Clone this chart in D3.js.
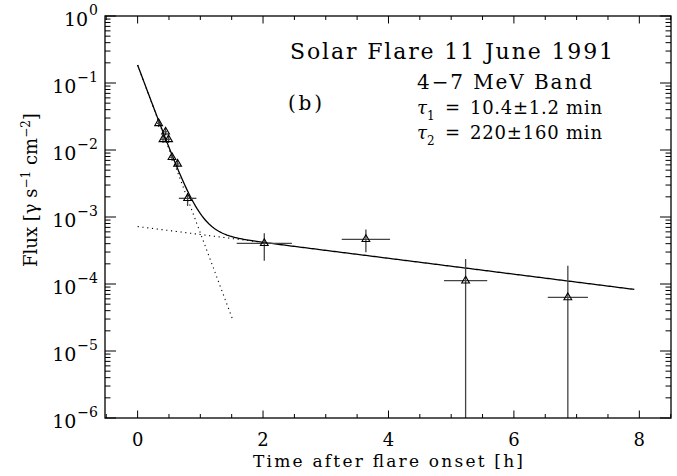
<!DOCTYPE html>
<html>
<head>
<meta charset="utf-8">
<script src="https://cdn.jsdelivr.net/npm/d3@7"></script>
<style>
  html, body { margin: 0; padding: 0; background: #fff; }
  svg text { font-family: "DejaVu Serif", "Liberation Serif", serif; }
</style>
</head>
<body>
<svg id="chart" width="677" height="476"></svg>
<script>
// Measured 4-7 MeV flux points (time in hours after onset)
const times    = [0.335, 0.405, 0.446, 0.494, 0.548, 0.638, 0.797, 2.02, 3.64, 5.23, 6.86];
const flux     = [2.5e-2, 1.44e-2, 1.87e-2, 1.44e-2, 7.8e-3, 6.2e-3, 1.9e-3, 4.05e-4, 4.65e-4, 1.12e-4, 6.3e-5];
const timeErr  = [0.03, 0.03, 0.03, 0.03, 0.03, 0.03, 0.14, 0.44, 0.385, 0.345, 0.32];
const fluxLow  = [2.2e-2, 1.27e-2, 1.65e-2, 1.27e-2, 6.9e-3, 5.5e-3, 1.46e-3, 2.23e-4, 2.97e-4, 0, 0];
const fluxHigh = [2.85e-2, 1.63e-2, 2.12e-2, 1.63e-2, 8.8e-3, 7.0e-3, 2.28e-3, 5.7e-4, 6.5e-4, 2.36e-4, 1.88e-4];

// Two-component exponential fit: A*exp(-t/tau1) + B*exp(-t/tau2)
const tau1Min = 10.4, tau2Min = 220;
const ampFast = 0.185, ampSlow = 7.2e-4;
const fitEnd = 7.92, fastEnd = 1.51, slowEnd = 1.95;

// Axis ticks and labels
const xTicks = [0, 2, 4, 6, 8];
const yExponents = [0, -1, -2, -3, -4, -5, -6];

const svg = d3.select("#chart");
const L = 105, R = 671, T = 16, B = 418;

const x = d3.scaleLinear().domain([-0.52, 8.505]).range([L, R]);
const y = d3.scaleLog().domain([1e-6, 1]).range([B, T]);

const tau1 = tau1Min / 60, tau2 = tau2Min / 60;
const fast = t => ampFast * Math.exp(-t / tau1);
const slow = t => ampSlow * Math.exp(-t / tau2);
const yv = v => v > 0 ? y(v) : B;

const plot = svg.append("g");
plot.append("clipPath").attr("id", "clip")
  .append("rect").attr("x", L).attr("y", T).attr("width", R - L).attr("height", B - T);

// Axes: bottom/top linear, left/right log
const minorX = d3.range(-0.5, 8.51, 0.5).filter(v => Math.abs(v - Math.round(v / 2) * 2) > 1e-6);
const frame = svg.append("g").attr("stroke", "#000").attr("fill", "none");

function xTickMarks(vals, len) {
  vals.forEach(v => {
    const px = x(v);
    frame.append("line").attr("x1", px).attr("x2", px).attr("y1", B).attr("y2", B - len).attr("stroke-width", 1);
    frame.append("line").attr("x1", px).attr("x2", px).attr("y1", T).attr("y2", T + len).attr("stroke-width", 1);
  });
}
xTickMarks(xTicks, 7.5);
xTickMarks(minorX, 4);

const yMinor = [];
for (let e = -6; e < 0; e++) for (let m = 2; m <= 9; m++) yMinor.push(m * Math.pow(10, e));
function yTickMarks(vals, len) {
  vals.forEach(v => {
    const py = y(v);
    frame.append("line").attr("x1", L).attr("x2", L + len).attr("y1", py).attr("y2", py).attr("stroke-width", 1);
    frame.append("line").attr("x1", R).attr("x2", R - len).attr("y1", py).attr("y2", py).attr("stroke-width", 1);
  });
}
yTickMarks(yExponents.map(e => Math.pow(10, e)), 11);
yTickMarks(yMinor, 5.5);

frame.append("rect").attr("x", L).attr("y", T).attr("width", R - L).attr("height", B - T)
  .attr("stroke-width", 1.3);

const txt = svg.append("g").attr("fill", "#000");

// Tick labels
txt.append("g").selectAll("text").data(xTicks).join("text")
  .attr("x", d => x(d)).attr("y", 446)
  .attr("text-anchor", "middle").attr("font-size", 18)
  .text(d => d);

const yl = txt.append("g").selectAll("text").data(yExponents).join("text")
  .attr("x", 98).attr("y", d => y(Math.pow(10, d)) + 10)
  .attr("text-anchor", "end").attr("font-size", 19);
yl.append("tspan").text("10");
yl.append("tspan").attr("dy", -11).attr("dx", 1).attr("font-size", 14)
  .text(d => d === 0 ? "0" : "\u2212" + (-d));

// Axis titles
txt.append("text").attr("x", 388).attr("y", 467).attr("text-anchor", "middle")
  .attr("font-size", 17).attr("textLength", 270).attr("lengthAdjust", "spacing")
  .text("Time after flare onset [h]");

const yt = txt.append("text").attr("transform", "translate(37,190) rotate(-90)")
  .attr("text-anchor", "middle").attr("font-size", 18);
yt.append("tspan").text("Flux [\u03b3 s");
yt.append("tspan").attr("dy", -7).attr("font-size", 12).text("\u22121");
yt.append("tspan").attr("dy", 7).text(" cm");
yt.append("tspan").attr("dy", -7).attr("font-size", 12).text("\u22122");
yt.append("tspan").attr("dy", 7).text("]");

// Fit curves
const g = plot.append("g").attr("clip-path", "url(#clip)");
const line = d3.line().x(d => x(d[0])).y(d => y(d[1]));
const samples = (t0, t1, f) => d3.range(0, 301).map(i => { const t = t0 + (t1 - t0) * i / 300; return [t, f(t)]; });

g.append("path").attr("d", line(samples(0, fastEnd, fast)))
  .attr("fill", "none").attr("stroke", "#000").attr("stroke-width", 1.1).attr("stroke-dasharray", "1.2,3.6");
g.append("path").attr("d", line(samples(0, slowEnd, slow)))
  .attr("fill", "none").attr("stroke", "#000").attr("stroke-width", 1.1).attr("stroke-dasharray", "1.2,3.6");
g.append("path").attr("d", line(samples(0, fitEnd, t => fast(t) + slow(t))))
  .attr("fill", "none").attr("stroke", "#000").attr("stroke-width", 1.3);

// Data points with error bars
const pts = times.map((t, i) => ({ t, f: flux[i], dt: timeErr[i], lo: fluxLow[i], hi: fluxHigh[i] }));
const eb = g.append("g").attr("stroke", "#444").attr("stroke-width", 1.3);
pts.forEach(p => {
  eb.append("line").attr("x1", x(p.t - p.dt)).attr("x2", x(p.t + p.dt)).attr("y1", y(p.f)).attr("y2", y(p.f));
  eb.append("line").attr("x1", x(p.t)).attr("x2", x(p.t)).attr("y1", yv(p.lo)).attr("y2", y(p.hi));
});
g.append("g").selectAll("path").data(pts).join("path")
  .attr("transform", d => `translate(${x(d.t)},${y(d.f)})`)
  .attr("d", d3.symbol(d3.symbolTriangle, 26))
  .attr("fill", "none").attr("stroke", "#000").attr("stroke-width", 1.1);

// Annotations
const ann = txt.append("g");
ann.append("text").attr("x", 290).attr("y", 59).attr("font-size", 22)
  .attr("textLength", 323).attr("lengthAdjust", "spacing").text("Solar Flare 11 June 1991");
ann.append("text").attr("x", 417).attr("y", 89).attr("font-size", 20)
  .attr("textLength", 175).attr("lengthAdjust", "spacing").text("4\u22127 MeV Band");
ann.append("text").attr("x", 288).attr("y", 110).attr("font-size", 20)
  .attr("textLength", 34).attr("lengthAdjust", "spacing").text("(b)");

function tauLine(yb, sub, rest) {
  const t = ann.append("text").attr("x", 417).attr("y", yb).attr("font-size", 18);
  t.append("tspan").attr("font-style", "italic").text("\u03c4");
  t.append("tspan").attr("dy", 6).attr("font-size", 12).text(sub);
  t.append("tspan").attr("dy", -6).attr("x", 445).text("=");
  t.append("tspan").attr("x", 470).attr("textLength", 132).attr("lengthAdjust", "spacing").text(rest);
}
tauLine(114, "1", "10.4\u00b11.2 min");
tauLine(139, "2", "220\u00b1160 min");
</script>
</body>
</html>
